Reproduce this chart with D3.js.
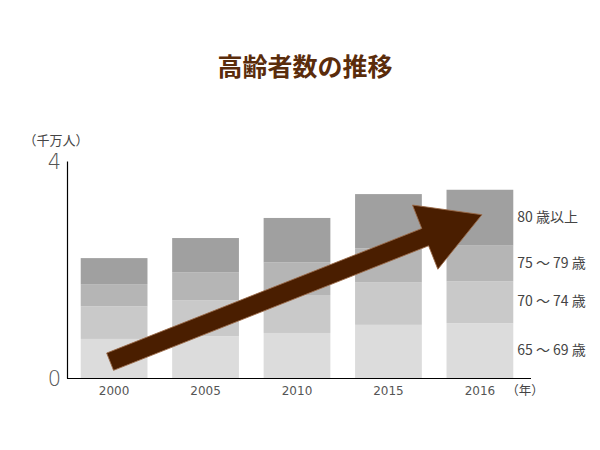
<!DOCTYPE html>
<html><head><meta charset="utf-8">
<script src="https://cdn.jsdelivr.net/npm/d3@7/dist/d3.min.js"></script>
<style>
body{margin:0;background:#fff;}
svg{display:block;}
</style></head>
<body>
<svg id="chart" width="600" height="450"></svg>
<script>
// ---- data ----
const years = ["2000", "2005", "2010", "2015", "2016"];
const ageGroups = ["65 ～ 69 歳", "70 ～ 74 歳", "75 ～ 79 歳", "80 歳以上"];
// values in 千万人 (tens of millions)
const age65to69 = [0.72, 0.77, 0.83, 0.98, 1.01];
const age70to74 = [0.60, 0.66, 0.70, 0.78, 0.77];
const age75to79 = [0.41, 0.52, 0.60, 0.63, 0.66];
const age80plus = [0.48, 0.63, 0.82, 1.00, 1.03];
const yTicks = [0, 4];
const titleText = "高齢者数の推移";
const yUnit = "（千万人）";
const xUnit = "（年）";
// trend arrow (decorative annotation) in data terms
const arrowFrom = {year: "2000", value: 0.30};
const arrowTo = {year: "2016", value: 3.01};

const colors = ["#dcdcdc", "#c9c9c9", "#b5b5b5", "#a0a0a0"];

const series = [age65to69, age70to74, age75to79, age80plus];
const table = years.map((y, i) => {
  const o = {year: y};
  ageGroups.forEach((g, k) => o[g] = series[k][i]);
  return o;
});

const svg = d3.select("#chart");
const x = d3.scaleBand().domain(years).range([67, 527]).paddingInner(0.27).paddingOuter(0.15);
const y = d3.scaleLinear().domain([0, 4]).range([378, 161]);

const stack = d3.stack().keys(ageGroups)(table);

// title
svg.append("text").attr("x", 305).attr("y", 76).attr("text-anchor", "middle")
  .attr("font-family", "Noto Sans CJK JP").attr("font-weight", "bold")
  .attr("font-size", 25).attr("fill", "#5a2c0b").text(titleText);

// bars
svg.append("g").selectAll("g").data(stack).join("g")
  .attr("fill", (d, i) => colors[i])
  .selectAll("rect").data(d => d).join("rect")
  .attr("x", d => x(d.data.year))
  .attr("width", x.bandwidth())
  .attr("y", d => y(d[1]))
  .attr("height", d => y(d[0]) - y(d[1]));

// y axis
const yAxis = svg.append("g").attr("transform", "translate(67,0)")
  .call(d3.axisLeft(y).tickValues(yTicks).tickSize(0).tickPadding(6).tickFormat(d3.format("d")));
yAxis.select(".domain").attr("stroke", "#000").attr("stroke-width", 1.2);
yAxis.selectAll("text").attr("font-family", "DejaVu Sans").attr("font-size", 21)
  .attr("font-weight", 300).attr("fill", "#555").attr("dy", "0.38em");

// x axis
const xAxis = svg.append("g").attr("transform", "translate(0,378)")
  .call(d3.axisBottom(x).tickSize(0).tickPadding(8));
xAxis.select(".domain").remove();
xAxis.selectAll("text").attr("font-family", "DejaVu Sans").attr("font-size", 12).attr("fill", "#555");
svg.append("line").attr("x1", 67).attr("x2", 531).attr("y1", 378.5).attr("y2", 378.5)
  .attr("stroke", "#000").attr("stroke-width", 1.2);

// units
svg.append("text").attr("x", 56).attr("y", 145).attr("text-anchor", "middle")
  .attr("font-family", "Noto Sans CJK JP").attr("font-size", 13).attr("fill", "#444").text(yUnit);
svg.append("text").attr("x", 525).attr("y", 395).attr("text-anchor", "middle")
  .attr("font-family", "Noto Sans CJK JP").attr("font-size", 12.5).attr("fill", "#444").text(xUnit);

// legend labels next to the last bar
const last = years.length - 1;
svg.append("g").selectAll("text").data(stack).join("text")
  .attr("x", x(years[last]) + x.bandwidth() + 4)
  .attr("y", d => (y(d[last][0]) + y(d[last][1])) / 2 + 4)
  .attr("font-family", "Noto Sans CJK JP").attr("font-size", 14).attr("fill", "#444")
  .text(d => d.key);

// arrow
const x0 = x(arrowFrom.year) + x.bandwidth() / 2 - 4, y0 = y(arrowFrom.value);
const x1 = x(arrowTo.year) + x.bandwidth() / 2 + 2, y1 = y(arrowTo.value);
const len = Math.hypot(x1 - x0, y1 - y0);
const ang = Math.atan2(y1 - y0, x1 - x0) * 180 / Math.PI;
const sw = 9.3, hw = 34.5, hl = 61;
const pts = [[0, -sw], [len - hl, -sw], [len - hl, -hw], [len, 0], [len - hl, hw], [len - hl, sw], [0, sw]];
svg.append("path")
  .attr("d", d3.line()(pts) + "Z")
  .attr("transform", `translate(${x0},${y0}) rotate(${ang})`)
  .attr("fill", "#4a1e00").attr("stroke", "#9a6a48").attr("stroke-width", 0.8)
  .attr("stroke-linejoin", "miter");
</script>
</body></html>
